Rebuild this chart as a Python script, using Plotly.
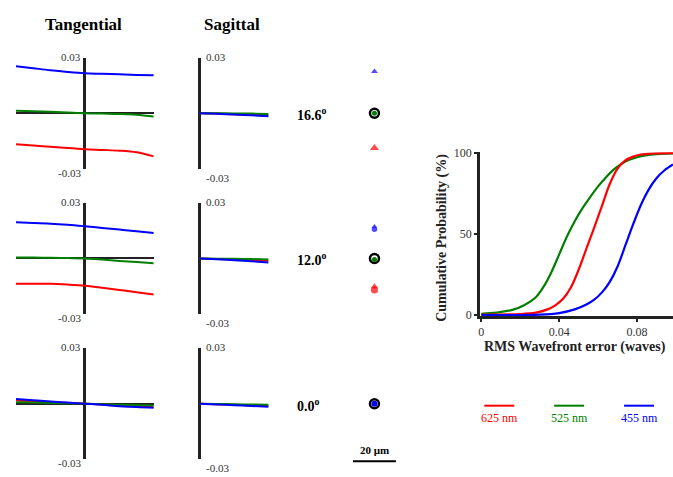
import plotly.graph_objects as go

# ---------------- data ----------------
fields = ["16.6", "12.0", "0.0"]
pupil_t = [-1, -0.75, -0.5, -0.25, 0, 0.25, 0.5, 0.75, 1]
pupil_s = [0, 0.25, 0.5, 0.75, 1]

# tangential ray fans (mm) per field: red 625, green 525, blue 455
tan_red = [
    [-0.0168, -0.0174, -0.0181, -0.0188, -0.0194, -0.0198, -0.0202, -0.0211, -0.0233],
    [-0.0137, -0.0137, -0.0137, -0.0141, -0.0147, -0.0158, -0.0170, -0.0182, -0.0195],
    [0.0018, 0.0013, 0.0009, 0.0004, 0.0, -0.0004, -0.0008, -0.0012, -0.0016],
]
tan_green = [
    [0.0014, 0.0011, 0.0008, 0.0004, 0.0, -0.0002, -0.0004, -0.0008, -0.0018],
    [0.0005, 0.0005, 0.0004, 0.0002, 0.0, -0.0006, -0.0013, -0.0019, -0.0026],
    [0.0008, 0.0006, 0.0004, 0.0002, 0.0, -0.0003, -0.0006, -0.0008, -0.0010],
]
tan_blue = [
    [0.0254, 0.0243, 0.0232, 0.0223, 0.0216, 0.0213, 0.0210, 0.0207, 0.0205],
    [0.0195, 0.0192, 0.0188, 0.0182, 0.0174, 0.0165, 0.0156, 0.0147, 0.0137],
    [0.0026, 0.0019, 0.0012, 0.0006, 0.0, -0.0006, -0.0013, -0.0018, -0.0021],
]
# sagittal ray fans (mm)
sag_red = [
    [0.0, -0.0002, -0.0005, -0.0008, -0.0012],
    [0.0, -0.0003, -0.0006, -0.0009, -0.0012],
    [0.0, -0.0003, -0.0006, -0.0009, -0.0012],
]
sag_green = [
    [0.0, 0.0, -0.0001, -0.0002, -0.0004],
    [0.0, -0.0001, -0.0002, -0.0003, -0.0005],
    [0.0, -0.0001, -0.0003, -0.0004, -0.0006],
]
sag_blue = [
    [0.0, -0.0003, -0.0007, -0.0011, -0.0016],
    [0.0, -0.0004, -0.0009, -0.0015, -0.0021],
    [0.0, -0.0004, -0.0008, -0.0012, -0.0016],
]
fan_ticks = [0.03, -0.03]

# spot centroids (um) per field
spot_red_y = [-16.6, -14.3, None]
spot_green_y = [0.0, -0.5, None]
spot_blue_y = [19.9, 14.4, 0.0]
scale_bar_um = 20

# cumulative probability of RMS wavefront error
cdf_red_x = [0, 0.02, 0.028, 0.034, 0.038, 0.042, 0.046, 0.050, 0.054, 0.058, 0.062, 0.066, 0.070, 0.074, 0.078, 0.082, 0.088, 0.0985]
cdf_red_y = [0.2, 0.6, 1.5, 3.5, 6.0, 10.0, 17.0, 28.0, 41.0, 54.0, 67.5, 81.0, 90.5, 95.5, 97.9, 99.2, 99.8, 100]
cdf_green_x = [0, 0.008, 0.016, 0.022, 0.028, 0.032, 0.036, 0.040, 0.044, 0.048, 0.052, 0.056, 0.060, 0.064, 0.068, 0.072, 0.076, 0.080, 0.086, 0.092, 0.0985]
cdf_green_y = [0.8, 1.5, 3.2, 6.0, 11.0, 17.5, 26.5, 37.5, 48.5, 58.0, 66.0, 73.0, 79.5, 85.0, 89.8, 93.3, 95.9, 97.6, 99.0, 99.6, 99.8]
cdf_blue_x = [0, 0.03, 0.04, 0.048, 0.054, 0.058, 0.062, 0.066, 0.070, 0.074, 0.078, 0.082, 0.086, 0.090, 0.094, 0.0985]
cdf_blue_y = [0, 0.2, 1.2, 3.5, 6.5, 9.5, 14.0, 20.5, 30.0, 43.0, 56.0, 68.0, 77.5, 84.5, 89.3, 93.0]
cdf_xticks = [0, 0.04, 0.08]
cdf_xticklabels = ["0", "0.04", "0.08"]
cdf_yticks = [0, 50, 100]

wavelengths = ["625 nm", "525 nm", "455 nm"]
colors = ["#ff0000", "#008000", "#0000ff"]

# ---------------- layout helpers ----------------
W, H = 673, 477
FONT = "Liberation Serif"


def px(x):
    return x / W


def py(y):
    return 1 - y / H


row_c = [110, 259, 408]
half = 57

fig = go.Figure()
layout = dict(
    width=W, height=H, margin=dict(l=0, r=0, t=0, b=0),
    paper_bgcolor="white", plot_bgcolor="rgba(0,0,0,0)", showlegend=False,
    font=dict(family=FONT, color="#333", size=11),
)
annotations = []
shapes = []

hidden = dict(showgrid=False, showticklabels=False, ticks="", showline=False, zeroline=False, fixedrange=True)


def axname(k):
    return "" if k == 1 else str(k)


for i in range(3):
    c = row_c[i]
    ydom = [py(c + half), py(c - half)]
    # tangential
    kt = i + 1
    layout["xaxis" + axname(kt)] = dict(hidden, domain=[px(15), px(153)], range=[-1, 1],
                                        anchor="y" + axname(kt), zeroline=True,
                                        zerolinecolor="#222", zerolinewidth=2.5)
    layout["yaxis" + axname(kt)] = dict(hidden, domain=ydom, range=[-0.03, 0.03],
                                        anchor="x" + axname(kt), zeroline=True,
                                        zerolinecolor="#222", zerolinewidth=2)
    for ys, col in zip([tan_red, tan_green, tan_blue], colors):
        fig.add_trace(go.Scatter(x=pupil_t, y=ys[i], mode="lines", line=dict(color=col, width=2, shape="spline"),
                                 xaxis="x" + axname(kt), yaxis="y" + axname(kt), hoverinfo="skip"))
    # sagittal
    ks = i + 4
    layout["xaxis" + axname(ks)] = dict(hidden, domain=[px(196.9), px(268)], range=[-0.03, 1],
                                        anchor="y" + axname(ks), zeroline=True,
                                        zerolinecolor="#222", zerolinewidth=2.5)
    layout["yaxis" + axname(ks)] = dict(hidden, domain=ydom, range=[-0.03, 0.03], anchor="x" + axname(ks))
    for ys, col in zip([sag_red, sag_green, sag_blue], colors):
        fig.add_trace(go.Scatter(x=pupil_s, y=ys[i], mode="lines", line=dict(color=col, width=2, shape="spline"),
                                 xaxis="x" + axname(ks), yaxis="y" + axname(ks), hoverinfo="skip"))
    # fan tick labels
    for v in fan_ticks:
        top = v > 0
        annotations.append(dict(xref="x" + axname(kt), yref="paper", x=0, y=ydom[1] if top else ydom[0],
                                text="%g" % v, showarrow=False, xanchor="right", xshift=-2,
                                yanchor="middle", yshift=1 if top else -4, font=dict(size=11, color="#333")))
        annotations.append(dict(xref="x" + axname(ks), yref="paper", x=0, y=ydom[1] if top else ydom[0],
                                text="%g" % v, showarrow=False, xanchor="left", xshift=4,
                                yanchor="middle", yshift=1 if top else -9, font=dict(size=11, color="#333")))
    # field label
    annotations.append(dict(xref="paper", yref="paper", x=px(294), y=py(c + 1), text=fields[i] + "<sup>o</sup>",
                            showarrow=False, xanchor="left", yanchor="middle",
                            font=dict(size=14, color="black", family=FONT, weight="bold")))
    # spot diagram
    kp = i + 7
    layout["xaxis" + axname(kp)] = dict(hidden, domain=[px(352.5), px(395.5)], range=[-10, 10], anchor="y" + axname(kp))
    layout["yaxis" + axname(kp)] = dict(hidden, domain=ydom, range=[-26.5, 26.5], anchor="x" + axname(kp))
    xa, ya = "x" + axname(kp), "y" + axname(kp)
    if i == 0:
        fig.add_trace(go.Scatter(x=[0, 0], y=[spot_blue_y[i], spot_red_y[i]], mode="markers",
                                 marker=dict(symbol="triangle-up", size=[6, 8], color=[colors[2], colors[0]], line=dict(width=0)),
                                 xaxis=xa, yaxis=ya, hoverinfo="skip"))
    elif i == 1:
        fig.add_trace(go.Scatter(x=[0, 0], y=[spot_blue_y[i] - 0.4, spot_red_y[i] - 0.7], mode="markers",
                                 marker=dict(symbol="circle", size=[5.5, 7], color=[colors[2], colors[0]], line=dict(width=0)),
                                 xaxis=xa, yaxis=ya, hoverinfo="skip"))
        fig.add_trace(go.Scatter(x=[0, 0], y=[spot_blue_y[i] + 0.9, spot_red_y[i] + 0.9], mode="markers",
                                 marker=dict(symbol="triangle-up", size=[5, 6.5], color=[colors[2], colors[0]], line=dict(width=0)),
                                 xaxis=xa, yaxis=ya, hoverinfo="skip"))
    # ring + center dot
    fig.add_trace(go.Scatter(x=[0], y=[0], mode="markers",
                             marker=dict(symbol="circle-open", size=9, color="black", line=dict(width=2.5)),
                             xaxis=xa, yaxis=ya, hoverinfo="skip"))
    cdot_y = spot_green_y[i] if spot_green_y[i] is not None else spot_blue_y[i]
    cdot_col = colors[1] if spot_green_y[i] is not None else colors[2]
    fig.add_trace(go.Scatter(x=[0], y=[cdot_y], mode="markers",
                             marker=dict(symbol="circle", size=5 if i < 2 else 6, color=cdot_col, line=dict(width=0)),
                             xaxis=xa, yaxis=ya, hoverinfo="skip"))

# scale bar (in the spot axis of the last row)
shapes.append(dict(type="line", xref="x9", yref="paper", x0=-scale_bar_um / 2, x1=scale_bar_um / 2,
                   y0=py(467), y1=py(467), line=dict(color="black", width=2)))
annotations.append(dict(xref="x9", yref="paper", x=0, y=py(455), text="%d µm" % scale_bar_um, showarrow=False,
                        xanchor="center", yanchor="middle",
                        font=dict(size=11, color="black", family=FONT, weight="bold")))

# titles
annotations.append(dict(xref="paper", yref="paper", x=px(83), y=py(19), text="Tangential", showarrow=False,
                        xanchor="center", yanchor="middle", font=dict(size=17, color="black", weight="bold")))
annotations.append(dict(xref="paper", yref="paper", x=px(231), y=py(19), text="Sagittal", showarrow=False,
                        xanchor="center", yanchor="middle", font=dict(size=17, color="black", weight="bold")))

# ---------------- CDF chart ----------------
layout["xaxis10"] = dict(domain=[px(479.5), 1], range=[-0.0008, 0.0985], anchor="y10",
                         showgrid=False, zeroline=False, showline=True, linecolor="#222", linewidth=2.5,
                         layer="below traces", ticks="outside", ticklen=3, tickwidth=1.5, tickcolor="#222",
                         tickvals=cdf_xticks, ticktext=cdf_xticklabels, tickfont=dict(size=12, color="#333"),
                         fixedrange=True)
layout["yaxis10"] = dict(domain=[py(318), py(150)], range=[-0.6, 100.6], anchor="x10",
                         showgrid=False, zeroline=False, showline=True, linecolor="#222", linewidth=2.5,
                         layer="below traces", ticks="outside", ticklen=3, tickwidth=1.5, tickcolor="#222",
                         tickvals=cdf_yticks, tickfont=dict(size=12, color="#333"), fixedrange=True)
for xs, ys, col in [(cdf_green_x, cdf_green_y, colors[1]), (cdf_red_x, cdf_red_y, colors[0]),
                    (cdf_blue_x, cdf_blue_y, colors[2])]:
    fig.add_trace(go.Scatter(x=xs, y=ys, mode="lines", line=dict(color=col, width=2.2, shape="spline", smoothing=1.0),
                             xaxis="x10", yaxis="y10", hoverinfo="skip"))

annotations.append(dict(xref="paper", yref="paper", x=px(441.5), y=py(238), text="Cumulative Probability (%)",
                        textangle=-90, showarrow=False, xanchor="center", yanchor="middle",
                        font=dict(size=14, color="#222", weight="bold")))
annotations.append(dict(xref="paper", yref="paper", x=px(575), y=py(349.5), text="RMS Wavefront error (waves)",
                        showarrow=False, xanchor="center", yanchor="middle",
                        font=dict(size=14, color="#222", weight="bold")))

# legend
leg_x = [499, 569, 639]
for name, col, cx in zip(wavelengths, colors, leg_x):
    shapes.append(dict(type="line", xref="paper", yref="paper", x0=px(cx - 15), x1=px(cx + 15),
                       y0=py(410), y1=py(410), line=dict(color=col, width=2)))
    annotations.append(dict(xref="paper", yref="paper", x=px(cx), y=py(423), text=name, showarrow=False,
                            xanchor="center", yanchor="middle", font=dict(size=12, color=col)))

layout["annotations"] = annotations
layout["shapes"] = shapes
fig.update_layout(**layout)
fig.write_html("out.html")
